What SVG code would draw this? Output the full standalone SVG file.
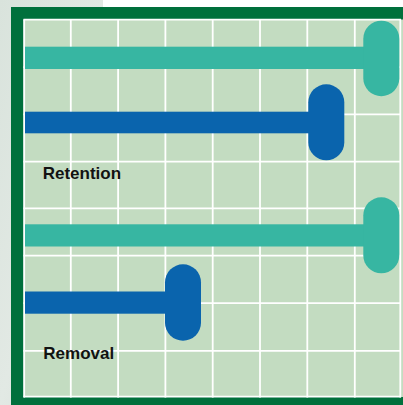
<svg xmlns="http://www.w3.org/2000/svg" width="403" height="405" viewBox="0 0 403 405">
<defs>
<linearGradient id="bgGrad" x1="0" y1="0" x2="1" y2="1">
<stop offset="0" stop-color="#d9e3dc"/>
<stop offset="0.5" stop-color="#e2e9e4"/>
<stop offset="1" stop-color="#d3ddd6"/>
</linearGradient>
</defs>
<style>
.grid line{stroke:#ffffff;stroke-width:1.8}
.teal{fill:#37b6a2}
.blue{fill:#0a64ad}
.lbl{font-family:"Liberation Sans",Arial,sans-serif;font-weight:bold;font-size:17px;fill:#121212}
</style>
<rect x="0" y="0" width="403" height="405" fill="#ffffff"/>
<rect x="0" y="0" width="103" height="405" fill="url(#bgGrad)"/>
<rect x="11" y="7" width="392" height="398" fill="#00703c"/>
<rect x="23.5" y="19.5" width="379.5" height="377.5" fill="#c3dcc1"/>
<g id="grid" class="grid">
<line x1="24.2" y1="19.5" x2="24.2" y2="397.5"/>
<line x1="70.8" y1="19.5" x2="70.8" y2="397.5"/>
<line x1="118.1" y1="19.5" x2="118.1" y2="397.5"/>
<line x1="165.4" y1="19.5" x2="165.4" y2="397.5"/>
<line x1="212.7" y1="19.5" x2="212.7" y2="397.5"/>
<line x1="260" y1="19.5" x2="260" y2="397.5"/>
<line x1="307.3" y1="19.5" x2="307.3" y2="397.5"/>
<line x1="354.8" y1="19.5" x2="354.8" y2="397.5"/>
<line x1="400.3" y1="19.5" x2="400.3" y2="397.5"/>
<line x1="23.5" y1="19.7" x2="401" y2="19.7"/>
<line x1="23.5" y1="67.2" x2="401" y2="67.2"/>
<line x1="23.5" y1="114.4" x2="401" y2="114.4"/>
<line x1="23.5" y1="161.7" x2="401" y2="161.7"/>
<line x1="23.5" y1="208.3" x2="401" y2="208.3"/>
<line x1="23.5" y1="255.6" x2="401" y2="255.6"/>
<line x1="23.5" y1="303.2" x2="401" y2="303.2"/>
<line x1="23.5" y1="350.8" x2="401" y2="350.8"/>
<line x1="23.5" y1="396.6" x2="401" y2="396.6"/>
</g>
<g id="retention-teal">
<rect class="teal" x="25" y="46.7" width="356" height="22.3"/>
<rect class="teal" x="363.3" y="20.7" width="36" height="75.5" rx="18" ry="18"/>
</g>
<g id="retention-blue">
<rect class="blue" x="25" y="111.7" width="300" height="21.6"/>
<rect class="blue" x="308.3" y="84.3" width="36" height="76" rx="18" ry="18"/>
</g>
<g id="removal-teal">
<rect class="teal" x="25" y="224.3" width="356" height="22.2"/>
<rect class="teal" x="363.3" y="197.3" width="36" height="76" rx="18" ry="18"/>
</g>
<g id="removal-blue">
<rect class="blue" x="25" y="291.5" width="160" height="22.2"/>
<rect class="blue" x="165" y="264.3" width="36" height="76.4" rx="18" ry="18"/>
</g>
<g id="labels">
<text class="lbl" x="42.7" y="179.3">Retention</text>
<text class="lbl" x="43.3" y="359.3">Removal</text>
</g>
</svg>
